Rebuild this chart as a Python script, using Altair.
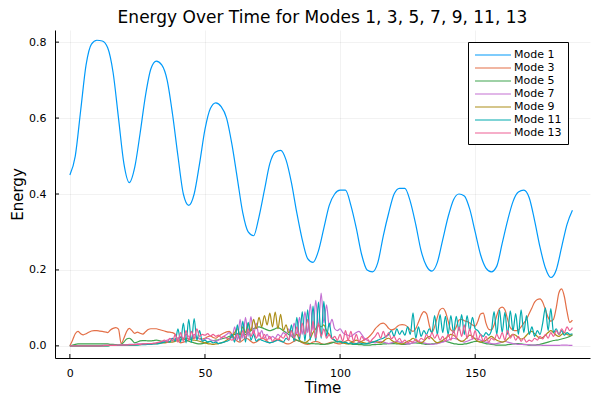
import altair as alt
import pandas as pd

MODES = ["Mode 1", "Mode 3", "Mode 5", "Mode 7", "Mode 9", "Mode 11", "Mode 13"]
COLORS = ["#009AFA", "#E36F47", "#3EA44E", "#C371D2", "#AC8E18", "#00AAAE", "#ED5E93"]

# Mode 1 sampled every 2 time units (t = 0, 2, ..., 186)
T_MODE1 = list(range(0, 188, 2))
MODE1 = [
    0.45, 0.50, 0.62, 0.74, 0.795, 0.805, 0.803, 0.785, 0.72, 0.60,
    0.48, 0.43, 0.47, 0.56, 0.66, 0.73, 0.75, 0.74, 0.70, 0.61,
    0.50, 0.40, 0.37, 0.40, 0.48, 0.57, 0.625, 0.64, 0.63, 0.60,
    0.53, 0.44, 0.35, 0.30, 0.29, 0.34, 0.41, 0.48, 0.51, 0.515,
    0.49, 0.43, 0.35, 0.28, 0.23, 0.22, 0.25, 0.31, 0.37, 0.40,
    0.41, 0.41, 0.37, 0.31, 0.24, 0.20, 0.195, 0.22, 0.29, 0.35,
    0.40, 0.415, 0.415, 0.38, 0.32, 0.25, 0.21, 0.197, 0.22, 0.28,
    0.34, 0.385, 0.40, 0.395, 0.36, 0.30, 0.24, 0.205, 0.195, 0.21,
    0.27, 0.33, 0.38, 0.405, 0.41, 0.39, 0.33, 0.26, 0.205, 0.18,
    0.20, 0.26, 0.32, 0.357,
]

# Other modes sampled every time unit (t = 0 .. 186)
T_SMALL = list(range(0, 187))
MODE3 = [
    0.000, 0.015, 0.032, 0.038, 0.032, 0.029, 0.032, 0.036, 0.039, 0.040,
    0.040, 0.039, 0.038, 0.037, 0.035, 0.042, 0.046, 0.048, 0.044, 0.006,
    0.020, 0.038, 0.046, 0.040, 0.033, 0.036, 0.033, 0.031, 0.037, 0.043,
    0.045, 0.045, 0.045, 0.043, 0.041, 0.039, 0.037, 0.036, 0.035, 0.030,
    0.015, 0.008, 0.010, 0.012, 0.015, 0.018, 0.020, 0.022, 0.020, 0.018,
    0.020, 0.024, 0.026, 0.022, 0.020, 0.025, 0.030, 0.034, 0.037, 0.038,
    0.030, 0.020, 0.012, 0.010, 0.015, 0.020, 0.018, 0.012, 0.008, 0.010,
    0.015, 0.020, 0.018, 0.012, 0.008, 0.010, 0.014, 0.018, 0.015, 0.010,
    0.006, 0.005, 0.008, 0.012, 0.015, 0.012, 0.008, 0.005, 0.004, 0.006,
    0.010, 0.012, 0.010, 0.006, 0.004, 0.005, 0.008, 0.010, 0.008, 0.006,
    0.005, 0.008, 0.012, 0.015, 0.012, 0.008, 0.006, 0.008, 0.012, 0.016,
    0.020, 0.026, 0.034, 0.045, 0.052, 0.058, 0.060, 0.055, 0.046, 0.042,
    0.044, 0.050, 0.055, 0.056, 0.055, 0.050, 0.042, 0.038, 0.045, 0.062,
    0.080, 0.090, 0.085, 0.055, 0.035, 0.050, 0.075, 0.095, 0.099, 0.090,
    0.065, 0.042, 0.038, 0.050, 0.068, 0.070, 0.066, 0.064, 0.060, 0.055,
    0.052, 0.065, 0.084, 0.086, 0.060, 0.044, 0.042, 0.055, 0.080, 0.098,
    0.102, 0.095, 0.070, 0.048, 0.042, 0.040, 0.042, 0.050, 0.060, 0.070,
    0.085, 0.100, 0.115, 0.122, 0.124, 0.115, 0.095, 0.075, 0.065, 0.070,
    0.100, 0.140, 0.150, 0.130, 0.090, 0.062, 0.068,
]
MODE5 = [
    0.000, 0.002, 0.004, 0.005, 0.005, 0.005, 0.005, 0.005, 0.005, 0.005,
    0.005, 0.005, 0.005, 0.005, 0.005, 0.004, 0.004, 0.003, 0.002, 0.004,
    0.010, 0.018, 0.020, 0.015, 0.008, 0.010, 0.013, 0.014, 0.014, 0.013,
    0.013, 0.014, 0.015, 0.014, 0.012, 0.010, 0.010, 0.012, 0.015, 0.018,
    0.020, 0.022, 0.018, 0.015, 0.012, 0.010, 0.008, 0.006, 0.005, 0.006,
    0.008, 0.010, 0.012, 0.014, 0.015, 0.016, 0.018, 0.020, 0.022, 0.025,
    0.028, 0.030, 0.032, 0.030, 0.028, 0.030, 0.035, 0.040, 0.045, 0.048,
    0.050, 0.048, 0.045, 0.042, 0.040, 0.042, 0.045, 0.048, 0.045, 0.040,
    0.035, 0.030, 0.025, 0.020, 0.015, 0.012, 0.010, 0.008, 0.007, 0.006,
    0.006, 0.005, 0.005, 0.004, 0.004, 0.005, 0.006, 0.008, 0.010, 0.012,
    0.012, 0.010, 0.008, 0.006, 0.005, 0.004, 0.004, 0.003, 0.003, 0.002,
    0.002, 0.002, 0.003, 0.003, 0.004, 0.004, 0.005, 0.005, 0.006, 0.006,
    0.006, 0.005, 0.005, 0.004, 0.004, 0.005, 0.006, 0.008, 0.008, 0.007,
    0.006, 0.005, 0.004, 0.004, 0.005, 0.006, 0.008, 0.010, 0.012, 0.012,
    0.010, 0.008, 0.006, 0.005, 0.004, 0.004, 0.005, 0.006, 0.008, 0.010,
    0.012, 0.012, 0.010, 0.008, 0.006, 0.005, 0.004, 0.003, 0.002, 0.002,
    0.002, 0.002, 0.003, 0.004, 0.005, 0.006, 0.006, 0.005, 0.004, 0.003,
    0.002, 0.002, 0.002, 0.003, 0.004, 0.006, 0.008, 0.010, 0.012, 0.014,
    0.015, 0.016, 0.018, 0.020, 0.022, 0.025, 0.028,
]
MODE7 = [
    0.000, 0.000, 0.000, 0.000, 0.000, 0.000, 0.000, 0.000, 0.000, 0.000,
    0.000, 0.000, 0.001, 0.001, 0.001, 0.001, 0.002, 0.002, 0.002, 0.003,
    0.003, 0.003, 0.004, 0.004, 0.004, 0.005, 0.005, 0.005, 0.005, 0.006,
    0.006, 0.006, 0.007, 0.008, 0.010, 0.012, 0.015, 0.018, 0.020, 0.015,
    0.020, 0.025, 0.020, 0.030, 0.025, 0.020, 0.030, 0.022, 0.018, 0.015,
    0.018, 0.020, 0.016, 0.014, 0.012, 0.015, 0.020, 0.025, 0.030, 0.035,
    0.020, 0.050, 0.015, 0.070, 0.020, 0.075, 0.025, 0.077, 0.030, 0.060,
    0.025, 0.040, 0.020, 0.030, 0.018, 0.025, 0.020, 0.030, 0.025, 0.035,
    0.030, 0.045, 0.025, 0.060, 0.030, 0.075, 0.030, 0.090, 0.035, 0.110,
    0.040, 0.120, 0.050, 0.139, 0.060, 0.108, 0.050, 0.070, 0.045, 0.040,
    0.045, 0.035, 0.030, 0.028, 0.025, 0.030, 0.035, 0.038, 0.030, 0.020,
    0.015, 0.012, 0.010, 0.008, 0.010, 0.012, 0.010, 0.008, 0.006, 0.008,
    0.010, 0.012, 0.010, 0.008, 0.006, 0.005, 0.006, 0.008, 0.010, 0.012,
    0.010, 0.008, 0.006, 0.005, 0.004, 0.005, 0.006, 0.008, 0.010, 0.012,
    0.015, 0.018, 0.020, 0.018, 0.015, 0.012, 0.010, 0.012, 0.015, 0.018,
    0.020, 0.018, 0.015, 0.012, 0.010, 0.008, 0.006, 0.005, 0.006, 0.008,
    0.010, 0.012, 0.010, 0.008, 0.006, 0.005, 0.004, 0.004, 0.003, 0.003,
    0.003, 0.002, 0.002, 0.002, 0.002, 0.001, 0.001, 0.001, 0.001, 0.001,
    0.001, 0.001, 0.002, 0.002, 0.002, 0.001, 0.001,
]
MODE9 = [
    0.000, 0.000, 0.000, 0.000, 0.000, 0.000, 0.000, 0.000, 0.000, 0.000,
    0.000, 0.000, 0.000, 0.000, 0.000, 0.001, 0.001, 0.001, 0.001, 0.001,
    0.001, 0.001, 0.002, 0.002, 0.002, 0.003, 0.003, 0.004, 0.004, 0.005,
    0.005, 0.006, 0.006, 0.007, 0.008, 0.008, 0.009, 0.010, 0.010, 0.012,
    0.014, 0.016, 0.018, 0.020, 0.018, 0.016, 0.015, 0.014, 0.012, 0.010,
    0.008, 0.006, 0.005, 0.004, 0.005, 0.006, 0.008, 0.010, 0.015, 0.020,
    0.025, 0.035, 0.045, 0.030, 0.050, 0.035, 0.060, 0.040, 0.070, 0.045,
    0.075, 0.050, 0.080, 0.055, 0.086, 0.050, 0.089, 0.045, 0.083, 0.040,
    0.055, 0.035, 0.040, 0.025, 0.030, 0.015, 0.010, 0.008, 0.012, 0.020,
    0.035, 0.045, 0.055, 0.050, 0.055, 0.040, 0.030, 0.020, 0.015, 0.012,
    0.010, 0.008, 0.006, 0.005, 0.008, 0.012, 0.015, 0.012, 0.010, 0.008,
    0.006, 0.008, 0.010, 0.012, 0.010, 0.008, 0.012, 0.018, 0.020, 0.015,
    0.010, 0.008, 0.006, 0.005, 0.008, 0.012, 0.015, 0.020, 0.015, 0.010,
    0.008, 0.012, 0.020, 0.025, 0.020, 0.012, 0.008, 0.010, 0.015, 0.020,
    0.025, 0.030, 0.028, 0.022, 0.015, 0.012, 0.015, 0.022, 0.028, 0.025,
    0.018, 0.012, 0.010, 0.012, 0.015, 0.020, 0.025, 0.020, 0.015, 0.012,
    0.010, 0.012, 0.018, 0.025, 0.030, 0.028, 0.022, 0.018, 0.020, 0.028,
    0.035, 0.038, 0.032, 0.025, 0.020, 0.022, 0.028, 0.035, 0.040, 0.035,
    0.028, 0.025, 0.030, 0.035, 0.030, 0.028, 0.030,
]
MODE11 = [
    0.000, 0.000, 0.000, 0.000, 0.000, 0.000, 0.000, 0.000, 0.000, 0.000,
    0.000, 0.000, 0.000, 0.000, 0.000, 0.001, 0.001, 0.001, 0.001, 0.001,
    0.001, 0.001, 0.002, 0.002, 0.002, 0.002, 0.003, 0.003, 0.003, 0.004,
    0.004, 0.005, 0.005, 0.006, 0.008, 0.010, 0.012, 0.010, 0.020, 0.012,
    0.045, 0.010, 0.060, 0.008, 0.070, 0.010, 0.072, 0.015, 0.040, 0.012,
    0.015, 0.010, 0.012, 0.008, 0.010, 0.006, 0.008, 0.010, 0.012, 0.015,
    0.030, 0.010, 0.055, 0.012, 0.065, 0.010, 0.062, 0.015, 0.030, 0.012,
    0.018, 0.015, 0.012, 0.010, 0.008, 0.010, 0.012, 0.015, 0.012, 0.010,
    0.020, 0.015, 0.055, 0.012, 0.075, 0.015, 0.090, 0.012, 0.095, 0.015,
    0.105, 0.012, 0.115, 0.020, 0.117, 0.025, 0.060, 0.020, 0.015, 0.010,
    0.012, 0.008, 0.010, 0.006, 0.008, 0.005, 0.006, 0.008, 0.006, 0.005,
    0.006, 0.008, 0.010, 0.012, 0.015, 0.018, 0.020, 0.025, 0.030, 0.040,
    0.025, 0.045, 0.030, 0.040, 0.028, 0.050, 0.030, 0.087, 0.020, 0.050,
    0.025, 0.040, 0.030, 0.045, 0.035, 0.080, 0.030, 0.082, 0.035, 0.078,
    0.030, 0.080, 0.035, 0.078, 0.040, 0.082, 0.030, 0.080, 0.040, 0.075,
    0.045, 0.040, 0.030, 0.025, 0.035, 0.028, 0.040, 0.090, 0.030, 0.095,
    0.035, 0.088, 0.030, 0.092, 0.040, 0.085, 0.030, 0.095, 0.035, 0.080,
    0.030, 0.050, 0.025, 0.040, 0.030, 0.060, 0.100, 0.040, 0.098, 0.035,
    0.045, 0.030, 0.040, 0.028, 0.035, 0.030, 0.032,
]
MODE13 = [
    0.000, 0.000, 0.000, 0.000, 0.000, 0.000, 0.000, 0.000, 0.000, 0.000,
    0.000, 0.000, 0.000, 0.001, 0.001, 0.001, 0.001, 0.001, 0.002, 0.002,
    0.002, 0.002, 0.003, 0.003, 0.003, 0.004, 0.004, 0.005, 0.005, 0.006,
    0.006, 0.007, 0.008, 0.010, 0.012, 0.015, 0.010, 0.020, 0.012, 0.030,
    0.010, 0.035, 0.012, 0.040, 0.015, 0.038, 0.020, 0.045, 0.025, 0.030,
    0.028, 0.032, 0.026, 0.030, 0.025, 0.028, 0.022, 0.025, 0.020, 0.018,
    0.015, 0.020, 0.030, 0.015, 0.040, 0.020, 0.045, 0.025, 0.040, 0.020,
    0.035, 0.018, 0.030, 0.015, 0.025, 0.012, 0.020, 0.015, 0.025, 0.020,
    0.030, 0.015, 0.040, 0.020, 0.050, 0.025, 0.060, 0.030, 0.070, 0.025,
    0.065, 0.020, 0.060, 0.025, 0.045, 0.020, 0.030, 0.018, 0.025, 0.015,
    0.030, 0.012, 0.040, 0.015, 0.038, 0.012, 0.030, 0.010, 0.025, 0.015,
    0.020, 0.010, 0.018, 0.025, 0.035, 0.020, 0.038, 0.022, 0.035, 0.018,
    0.025, 0.012, 0.020, 0.010, 0.015, 0.008, 0.012, 0.010, 0.018, 0.012,
    0.020, 0.015, 0.030, 0.018, 0.035, 0.020, 0.030, 0.015, 0.025, 0.012,
    0.030, 0.015, 0.040, 0.020, 0.050, 0.025, 0.055, 0.020, 0.045, 0.018,
    0.040, 0.015, 0.030, 0.012, 0.025, 0.010, 0.020, 0.015, 0.030, 0.018,
    0.035, 0.015, 0.040, 0.020, 0.030, 0.015, 0.025, 0.012, 0.020, 0.010,
    0.015, 0.012, 0.020, 0.015, 0.025, 0.018, 0.030, 0.020, 0.035, 0.025,
    0.040, 0.030, 0.045, 0.035, 0.050, 0.040, 0.048,
]

X_TICKS = [0, 50, 100, 150]
Y_TICKS = [0.0, 0.2, 0.4, 0.6, 0.8]

SERIES = [
    ("Mode 1", T_MODE1, MODE1),
    ("Mode 3", T_SMALL, MODE3),
    ("Mode 5", T_SMALL, MODE5),
    ("Mode 7", T_SMALL, MODE7),
    ("Mode 9", T_SMALL, MODE9),
    ("Mode 11", T_SMALL, MODE11),
    ("Mode 13", T_SMALL, MODE13),
]

W, H = 535, 328
FONT = "DejaVu Sans"

xscale = alt.Scale(domain=[-5.5, 192.5], nice=False, zero=False)
yscale = alt.Scale(domain=[-0.032, 0.832], nice=False, zero=False)
xaxis = alt.Axis(title="Time", values=X_TICKS, format="d")
yaxis = alt.Axis(title="Energy", values=Y_TICKS, format=".1f")

legend = alt.Legend(
    title=None,
    orient="none",
    legendX=413,
    legendY=12,
    symbolType="M-3,0L3,0",
    symbolSize=144,
    symbolStrokeWidth=1.2,
    symbolOffset=12,
    labelOffset=14,
    labelFont=FONT,
    labelFontSize=11,
    labelColor="#000000",
    rowPadding=1,
    padding=6,
    strokeColor="#000000",
    fillColor="#ffffff",
    cornerRadius=0,
)

layers = []
for name, ts, vals in SERIES:
    df = pd.DataFrame({"t": ts, "v": vals, "mode": name})
    layers.append(
        alt.Chart(df).mark_line(strokeWidth=1.2, interpolate="monotone").encode(
            x=alt.X("t:Q", scale=xscale, axis=xaxis),
            y=alt.Y("v:Q", scale=yscale, axis=yaxis),
            color=alt.Color("mode:N", scale=alt.Scale(domain=MODES, range=COLORS), legend=legend),
        )
    )

xt = pd.DataFrame({"t": X_TICKS})
yt = pd.DataFrame({"v": Y_TICKS})
xtick_layer = alt.Chart(xt).mark_rule(color="#000000", strokeWidth=1).encode(
    x=alt.X("t:Q", scale=xscale, axis=xaxis),
    y=alt.value(H), y2=alt.value(H - 4),
)
ytick_layer = alt.Chart(yt).mark_rule(color="#000000", strokeWidth=1).encode(
    y=alt.Y("v:Q", scale=yscale, axis=yaxis),
    x=alt.value(0), x2=alt.value(4),
)

chart = alt.layer(*layers, xtick_layer, ytick_layer).properties(
    width=W,
    height=H,
    title=alt.Title("Energy Over Time for Modes 1, 3, 5, 7, 9, 11, 13",
                    font=FONT, fontSize=17, fontWeight="normal", color="#000000",
                    anchor="middle", offset=3),
    autosize=alt.AutoSizeParams(type="none"),
    padding={"left": 47, "top": 22, "right": 2, "bottom": 40},
).configure_view(
    stroke=None
).configure_axis(
    labelFont=FONT,
    labelFontSize=11,
    labelColor="#000000",
    titleFont=FONT,
    titleFontSize=15,
    titleFontWeight="normal",
    titleColor="#000000",
    ticks=False,
    labelPadding=9,
    grid=True,
    gridColor="#000000",
    gridOpacity=0.1,
    gridWidth=0.5,
    domainColor="#000000",
    domainWidth=1,
).configure_axisX(
    titlePadding=2,
).configure_axisY(
    titlePadding=3,
)

chart.save("out.html", embed_options={"renderer": "svg", "actions": False})
